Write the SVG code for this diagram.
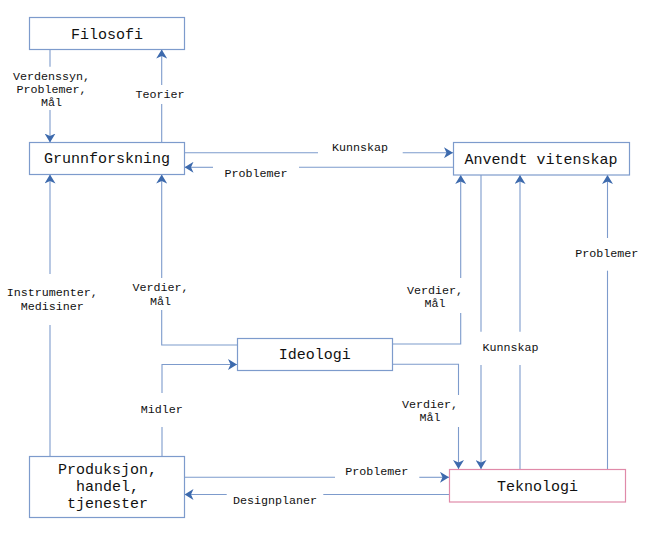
<svg xmlns="http://www.w3.org/2000/svg" width="655" height="535" viewBox="0 0 655 535">
<defs>
<style>
.box{fill:#ffffff;stroke:#7d9bcc;stroke-width:1.2}
.pink{fill:#ffffff;stroke:#e08aa9;stroke-width:1.2}
.node{font-family:"Liberation Mono","DejaVu Sans Mono",monospace;font-size:15px;fill:#111;text-anchor:middle}
.lbl{font-family:"Liberation Mono","DejaVu Sans Mono",monospace;font-size:11.7px;fill:#111;text-anchor:middle}
.edge{fill:none;stroke:#7d9bcc;stroke-width:1.1}
.arr{marker-end:url(#ah)}
</style>
<marker id="ah" viewBox="0 0 9 11" refX="9" refY="5.5" markerWidth="9" markerHeight="11" markerUnits="userSpaceOnUse" orient="auto">
<path d="M9,5.5 L0,0 L2.5,5.5 L0,11 Z" fill="#3d6aad"/>
</marker>
</defs>
<rect width="655" height="535" fill="#ffffff"/>

<g id="connectors">
<!-- Filosofi -> Grunnforskning -->
<path class="edge" d="M50,49.5 L50,66.7"/>
<path class="edge arr" d="M50,110 L50,142.5"/>
<!-- Grunnforskning -> Filosofi -->
<path class="edge" d="M161.7,142.5 L161.7,104"/>
<path class="edge arr" d="M161.7,85 L161.7,49.5"/>
<!-- Grunnforskning -> Anvendt -->
<path class="edge" d="M184.5,152.7 L318,152.7"/>
<path class="edge arr" d="M402.7,152.7 L453,152.7"/>
<!-- Anvendt -> Grunnforskning -->
<path class="edge" d="M453,167.3 L299,167.3"/>
<path class="edge arr" d="M213,167.3 L184.5,167.3"/>
<!-- Produksjon -> Grunnforskning -->
<path class="edge" d="M50,456 L50,325"/>
<path class="edge arr" d="M50,274 L50,174.5"/>
<!-- Ideologi -> Grunnforskning -->
<path class="edge" d="M237,345 L161.7,345 L161.7,310"/>
<path class="edge arr" d="M161.7,278 L161.7,174.5"/>
<!-- Ideologi -> Anvendt -->
<path class="edge" d="M392.5,344 L460.7,344 L460.7,313"/>
<path class="edge arr" d="M460.7,278 L460.7,175"/>
<!-- Produksjon -> Ideologi -->
<path class="edge" d="M162,456 L162,427"/>
<path class="edge arr" d="M162,393 L162,364.5 L237,364.5"/>
<!-- Ideologi -> Teknologi -->
<path class="edge" d="M392.5,364.3 L458.5,364.3 L458.5,395"/>
<path class="edge arr" d="M458.5,427 L458.5,469"/>
<!-- Anvendt -> Teknologi -->
<path class="edge" d="M481,175 L481,331.7"/>
<path class="edge arr" d="M481,365 L481,469"/>
<!-- Teknologi -> Anvendt -->
<path class="edge" d="M520,469 L520,365"/>
<path class="edge arr" d="M520,331.7 L520,175"/>
<!-- Teknologi -> Anvendt (Problemer) -->
<path class="edge" d="M607.5,469 L607.5,270.7"/>
<path class="edge arr" d="M607.5,238 L607.5,175"/>
<!-- Produksjon -> Teknologi -->
<path class="edge" d="M184.5,477.3 L335,477.3"/>
<path class="edge arr" d="M419.3,477.3 L449,477.3"/>
<!-- Teknologi -> Produksjon -->
<path class="edge" d="M449,494.5 L323.3,494.5"/>
<path class="edge arr" d="M226.7,494.5 L184.5,494.5"/>
</g>

<g id="labels">
<text class="lbl" x="51.5" y="79.7">Verdenssyn,</text>
<text class="lbl" x="51.5" y="93">Problemer,</text>
<text class="lbl" x="51.5" y="106.3">Mål</text>
<text class="lbl" x="160" y="98">Teorier</text>
<text class="lbl" x="360" y="150.7">Kunnskap</text>
<text class="lbl" x="256" y="177.3">Problemer</text>
<text class="lbl" x="52.3" y="296.3">Instrumenter,</text>
<text class="lbl" x="52.3" y="309.7">Medisiner</text>
<text class="lbl" x="160.5" y="291.3">Verdier,</text>
<text class="lbl" x="160.5" y="304.6">Mål</text>
<text class="lbl" x="435" y="294">Verdier,</text>
<text class="lbl" x="435" y="307.3">Mål</text>
<text class="lbl" x="606.7" y="257.3">Problemer</text>
<text class="lbl" x="510.5" y="351.3">Kunnskap</text>
<text class="lbl" x="161.7" y="413.3">Midler</text>
<text class="lbl" x="430" y="407.8">Verdier,</text>
<text class="lbl" x="430" y="421.1">Mål</text>
<text class="lbl" x="376.7" y="474.7">Problemer</text>
<text class="lbl" x="275" y="504">Designplaner</text>
</g>

<g id="filosofi">
<rect class="box" x="29.5" y="17.5" width="155" height="32"/>
<text class="node" x="107" y="38.5">Filosofi</text>
</g>
<g id="grunnforskning">
<rect class="box" x="29.5" y="142.5" width="155" height="32"/>
<text class="node" x="107" y="163">Grunnforskning</text>
</g>
<g id="anvendt">
<rect class="box" x="453.5" y="142.5" width="176" height="32.5"/>
<text class="node" x="541" y="163.5">Anvendt vitenskap</text>
</g>
<g id="ideologi">
<rect class="box" x="237.5" y="338.5" width="155" height="32"/>
<text class="node" x="314.7" y="359">Ideologi</text>
</g>
<g id="produksjon">
<rect class="box" x="29.5" y="456.5" width="155" height="61"/>
<text class="node" x="107.5" y="474.3">Produksjon,</text>
<text class="node" x="107.5" y="491">handel,</text>
<text class="node" x="107.5" y="507.7">tjenester</text>
</g>
<g id="teknologi">
<rect class="pink" x="449.5" y="469.5" width="176" height="32.5"/>
<text class="node" x="537.5" y="490.5">Teknologi</text>
</g>
</svg>
